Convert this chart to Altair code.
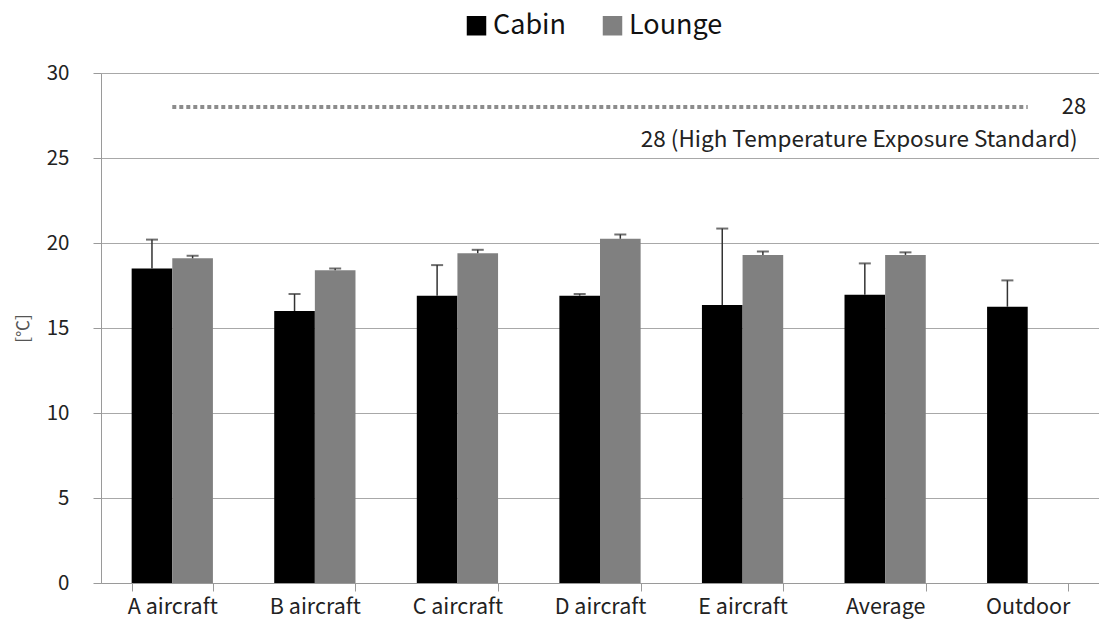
import altair as alt
import pandas as pd

categories = ["A aircraft", "B aircraft", "C aircraft", "D aircraft", "E aircraft", "Average", "Outdoor"]
series = ["Cabin", "Lounge"]
cabin = [18.5, 16.0, 16.9, 16.9, 16.35, 16.95, 16.25]
cabin_err_top = [20.2, 17.0, 18.7, 17.0, 20.85, 18.8, 17.8]
lounge = [19.1, 18.4, 19.4, 20.25, 19.3, 19.3, None]
lounge_err_top = [19.25, 18.5, 19.6, 20.5, 19.5, 19.45, None]
standard_value = 28
standard_label = "28 (High Temperature Exposure Standard)"

rows = []
for i, c in enumerate(categories):
    rows.append({"cat": c, "series": "Cabin", "value": cabin[i], "hi": cabin_err_top[i]})
    if lounge[i] is not None:
        rows.append({"cat": c, "series": "Lounge", "value": lounge[i], "hi": lounge_err_top[i]})
df = pd.DataFrame(rows)
std_df = pd.DataFrame({"cat": categories, "y": [standard_value] * len(categories)})
lbl_df = pd.DataFrame({"cat": [categories[-1]], "y": [standard_value]})

FONT = "Noto Sans CJK KR"

x_enc = alt.X("cat:N", sort=categories, title=None,
              scale=alt.Scale(paddingInner=0.43, paddingOuter=0.215),
              axis=alt.Axis(labelAngle=0, labelFontSize=21.5, labelColor="#222222",
                            labelPadding=5, tickBand="extent", tickSize=8,
                            tickColor="#9a9a9a", domainColor="#9a9a9a", labelFont=FONT))
y_scale = alt.Scale(domain=[0, 30], nice=False)
xoff = alt.XOffset("series:N", sort=series, scale=alt.Scale(paddingInner=0, paddingOuter=0))

bars = alt.Chart(df).mark_bar().encode(
    x=x_enc,
    xOffset=xoff,
    y=alt.Y("value:Q", scale=y_scale, title="[℃]",
            axis=alt.Axis(values=[0, 5, 10, 15, 20, 25, 30], labelFontSize=20.5,
                          labelColor="#222222", tickSize=8, tickColor="#9a9a9a",
                          domainColor="#9a9a9a", gridColor="#a8a8a8", labelPadding=24,
                          titleFontSize=17, titleColor="#555555", titleFontWeight="normal",
                          titlePadding=14, labelFont=FONT, titleFont=FONT)),
    color=alt.Color("series:N", sort=series,
                    scale=alt.Scale(domain=series, range=["#000000", "#808080"]),
                    legend=alt.Legend(title=None, orient="none", direction="horizontal",
                                      legendX=362, legendY=-61, symbolType="square",
                                      symbolSize=380, symbolStrokeWidth=0, labelFontSize=27,
                                      labelFont=FONT, labelColor="#111111", columnPadding=32,
                                      symbolOffset=0, labelOffset=3, padding=0,
                                      labelLimit=400)),
)

err = alt.Chart(df).mark_rule(color="#333333", strokeWidth=1.5).encode(
    x=alt.X("cat:N", sort=categories),
    xOffset=xoff,
    y=alt.Y("value:Q", scale=y_scale),
    y2="hi:Q",
)
caps = alt.Chart(df).mark_tick(color="#333333", thickness=2, size=12, orient="horizontal").encode(
    x=alt.X("cat:N", sort=categories),
    xOffset=xoff,
    y=alt.Y("hi:Q", scale=y_scale),
)

std_line = alt.Chart(std_df).mark_line(color="#8c8c8c", strokeWidth=4, strokeDash=[4, 3]).encode(
    x=alt.X("cat:N", sort=categories),
    y=alt.Y("y:Q", scale=y_scale),
)
lbl28 = alt.Chart(lbl_df).mark_text(align="left", baseline="middle", dx=34, fontSize=22,
                                      font=FONT, color="#222222").encode(
    x=alt.X("cat:N", sort=categories),
    y=alt.Y("y:Q", scale=y_scale),
    text=alt.value(str(standard_value)),
)
lbl_std = alt.Chart(lbl_df).mark_text(align="right", baseline="middle", dx=50, dy=33, fontSize=22.5,
                                        font=FONT, color="#222222").encode(
    x=alt.X("cat:N", sort=categories),
    y=alt.Y("y:Q", scale=y_scale),
    text=alt.value(standard_label),
)

chart = alt.layer(bars, err, caps, std_line, lbl28, lbl_std).properties(
    width=998, height=510,
    autosize=alt.AutoSizeParams(type="none"),
    padding={"left": 93, "top": 65, "right": 0, "bottom": 40},
).configure_view(stroke=None).configure(background="white")

chart.save("out.html", embed_options={"renderer": "svg", "actions": False})
